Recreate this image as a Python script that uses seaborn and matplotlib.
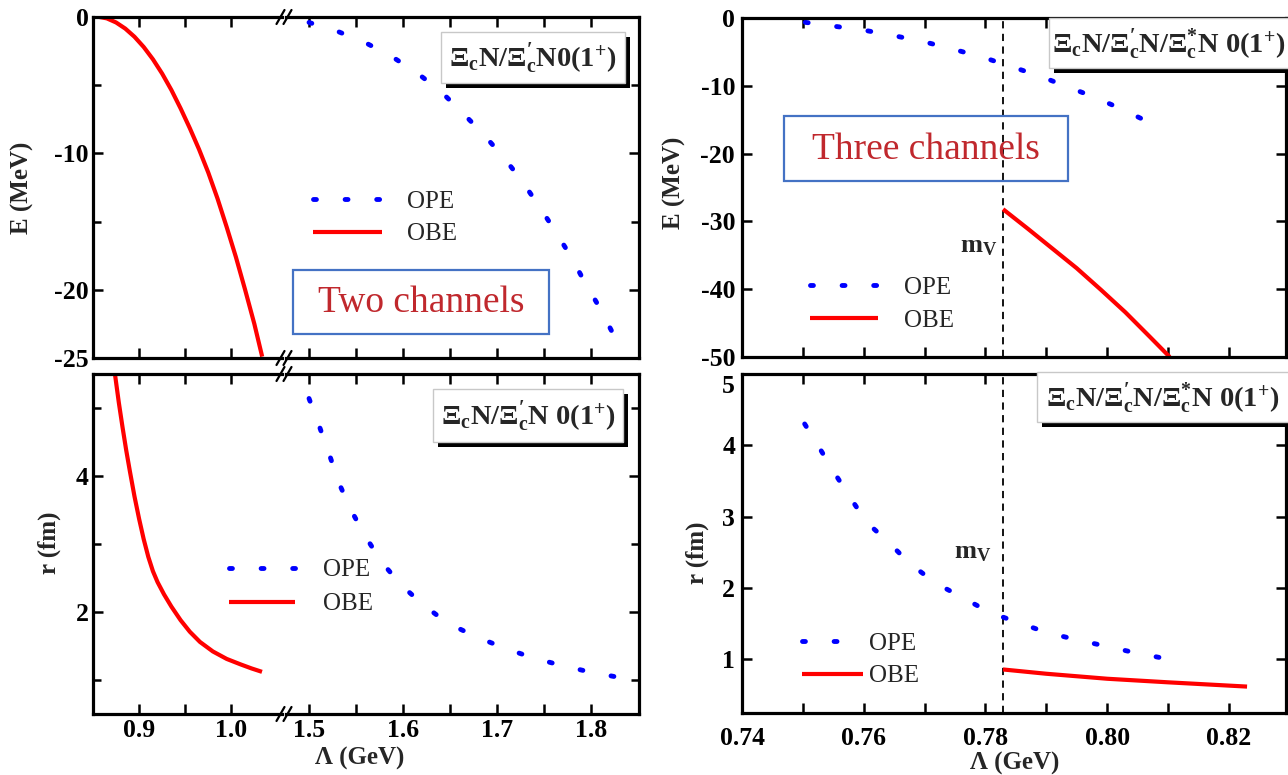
import matplotlib
matplotlib.use("Agg")
import matplotlib.pyplot as plt
import seaborn as sns
from matplotlib.lines import Line2D
from matplotlib.patches import Rectangle
from matplotlib.ticker import FixedLocator, FormatStrFormatter
from matplotlib.transforms import ScaledTranslation

# ---------------- data ----------------
# two channels, binding energy E (MeV)
lam_obe2_E = [0.857, 0.865, 0.875, 0.885, 0.895, 0.905, 0.915, 0.925, 0.935, 0.945,
              0.955, 0.965, 0.975, 0.985, 0.995, 1.005, 1.015, 1.025, 1.0335]
E_obe2 = [0.0, -0.1, -0.4, -0.85, -1.45, -2.2, -3.1, -4.15, -5.35, -6.7,
          -8.15, -9.7, -11.4, -13.3, -15.4, -17.6, -20.0, -22.5, -24.9]
lam_ope2_E = [1.500, 1.531, 1.561, 1.589, 1.615, 1.639, 1.661, 1.684, 1.706, 1.726,
              1.744, 1.761, 1.778, 1.793, 1.809, 1.824]
E_ope2 = [-0.4, -1.07, -1.92, -2.94, -4.11, -5.38, -6.86, -8.49, -10.2, -11.97,
          -13.8, -15.6, -17.5, -19.4, -21.3, -23.3]
# two channels, rms radius r (fm)
lam_obe2_r = [0.8739, 0.878, 0.882, 0.886, 0.890, 0.895, 0.900, 0.905, 0.910, 0.915,
              0.920, 0.927, 0.935, 0.945, 0.955, 0.966, 0.980, 0.995, 1.010, 1.022, 1.0333]
r_obe2 = [5.49, 5.08, 4.72, 4.38, 4.07, 3.70, 3.37, 3.07, 2.81, 2.60,
          2.44, 2.26, 2.08, 1.88, 1.71, 1.56, 1.42, 1.31, 1.23, 1.17, 1.12]
lam_ope2_r = [1.500, 1.511, 1.522, 1.532, 1.545, 1.560, 1.577, 1.597, 1.621, 1.647,
              1.677, 1.706, 1.737, 1.767, 1.798, 1.829]
r_ope2 = [5.14, 4.73, 4.30, 3.89, 3.49, 3.11, 2.74, 2.41, 2.11, 1.84,
          1.64, 1.48, 1.33, 1.22, 1.12, 1.04]
# three channels, binding energy E (MeV)
lam_ope3_E = [0.7504, 0.7553, 0.7602, 0.7650, 0.7699, 0.7746, 0.7795, 0.7841, 0.7888,
              0.7933, 0.7979, 0.8023, 0.8067]
E_ope3 = [-0.64, -1.23, -1.82, -2.61, -3.50, -4.58, -5.76, -7.13, -8.51,
          -10.09, -11.66, -13.4, -15.3]
lam_obe3_E = [0.7829, 0.787, 0.791, 0.795, 0.799, 0.803, 0.807, 0.8103]
E_obe3 = [-28.2, -31.1, -34.0, -36.9, -40.1, -43.4, -47.0, -50.0]
# three channels, rms radius r (fm)
lam_ope3_r = [0.7503, 0.7529, 0.7553, 0.7580, 0.7605, 0.7640, 0.7675, 0.7718, 0.7762,
              0.7807, 0.7853, 0.7900, 0.7948, 0.7996, 0.8043, 0.8091]
r_ope3 = [4.30, 3.94, 3.60, 3.24, 2.92, 2.65, 2.35, 2.07, 1.87,
          1.66, 1.52, 1.38, 1.28, 1.19, 1.10, 1.02]
lam_obe3_r = [0.7829, 0.790, 0.800, 0.810, 0.823]
r_obe3 = [0.86, 0.80, 0.73, 0.68, 0.62]
m_V = 0.7829

series_labels = ["OPE", "OBE"]
title_2E = r"$\mathbf{\Xi_{c}N/\Xi_{c}^{\prime}N0(1^{+})}$"
title_2r = r"$\mathbf{\Xi_{c}N/\Xi_{c}^{\prime}N\ 0(1^{+})}$"
title_3 = r"$\mathbf{\Xi_{c}N/\Xi_{c}^{\prime}N/\Xi_{c}^{*}N\ 0(1^{+})}$"

# ---------------- style ----------------
sns.set_style("ticks")
plt.rcParams["font.family"] = ["Liberation Serif", "DejaVu Serif"]
plt.rcParams["font.weight"] = "bold"
plt.rcParams["mathtext.fontset"] = "custom"
plt.rcParams["mathtext.rm"] = "Liberation Serif"
plt.rcParams["mathtext.bf"] = "Liberation Serif:bold"
plt.rcParams["mathtext.it"] = "Liberation Serif:italic"
plt.rcParams["axes.unicode_minus"] = False

W, H = 1288, 775
fig = plt.figure(figsize=(W / 100, H / 100), dpi=100)
fig.patch.set_facecolor("white")


def ax_at(x0, y0, x1, y1):
    return fig.add_axes([x0 / W, 1 - y1 / H, (x1 - x0) / W, (y1 - y0) / H])


def fx(px):
    return px / W


def fy(py):
    return 1 - py / H


OPE_KW = dict(color="#0000FF", linewidth=3.5, linestyle=(0, (0.6, 5.9)),
              dash_capstyle="round")
OBE_KW = dict(color="#FF0000", linewidth=3.0, solid_capstyle="butt")


def draw(ax, x, y, kw):
    sns.lineplot(x=x, y=y, ax=ax, legend=False, **kw)
    return ax.lines[-1]


def style_ax(ax, xlim, ylim, xmaj, xmin, ymaj, ymin, xfmt, yfmt,
             left=True, right=True, xlabels=True, ylabels=True, xpad=3, ypad=3):
    ax.set_xlim(*xlim)
    ax.set_ylim(*ylim)
    ax.xaxis.set_major_locator(FixedLocator(xmaj))
    ax.xaxis.set_minor_locator(FixedLocator(xmin))
    ax.yaxis.set_major_locator(FixedLocator(ymaj))
    ax.yaxis.set_minor_locator(FixedLocator(ymin))
    ax.xaxis.set_major_formatter(FormatStrFormatter(xfmt))
    ax.yaxis.set_major_formatter(FormatStrFormatter(yfmt))
    ax.tick_params(which="both", direction="in", top=True, bottom=True,
                   left=left, right=right, width=1.8, labelsize=18.5,
                   labelbottom=xlabels, labelleft=ylabels, labelright=False,
                   labeltop=False, color="black", labelcolor="black")
    ax.tick_params(axis="x", which="both", pad=xpad)
    ax.tick_params(axis="y", which="both", pad=ypad)
    ax.tick_params(which="major", length=7.5)
    ax.tick_params(which="minor", length=5.5)
    ax.tick_params(axis="x", which="minor", length=7.5)
    for s in ax.spines.values():
        s.set_linewidth(2.3)
        s.set_color("black")
    if not left:
        ax.spines["left"].set_visible(False)
    if not right:
        ax.spines["right"].set_visible(False)
    ax.set_xlabel("")
    ax.set_ylabel("")
    ax.set_facecolor("none")


def legend_at(ax, handles, x_left, y_top, hlen, hpad, lspace):
    ax.legend(handles, series_labels, loc="upper left",
              bbox_to_anchor=(fx(x_left), fy(y_top)), bbox_transform=fig.transFigure,
              frameon=False, borderpad=0, borderaxespad=0, handlelength=hlen,
              handletextpad=hpad, labelspacing=lspace,
              prop=dict(family="Liberation Serif", weight="normal", size=18))


def label_box(x0, y0, x1, y1, txt, sx=5, sy=5):
    fig.add_artist(Rectangle((fx(x0 + sx), fy(y1 + sy)), (x1 - x0) / W, (y1 - y0) / H,
                             transform=fig.transFigure, fc="black", ec="none", zorder=5))
    fig.add_artist(Rectangle((fx(x0), fy(y1)), (x1 - x0) / W, (y1 - y0) / H,
                             transform=fig.transFigure, fc="white", ec="#C8C8C8",
                             lw=1.0, zorder=6))
    fig.text(fx((x0 + min(x1, W)) / 2), fy((y0 + y1) / 2 + 1), txt, ha="center",
             va="center", fontsize=20.5, zorder=7)


def channel_box(x0, y0, x1, y1, txt):
    fig.add_artist(Rectangle((fx(x0), fy(y1)), (x1 - x0) / W, (y1 - y0) / H,
                             transform=fig.transFigure, fc="none", ec="#4472C4",
                             lw=1.6, zorder=5))
    fig.text(fx((x0 + x1) / 2), fy((y0 + y1) / 2 + 1), txt, ha="center", va="center",
             fontsize=27, fontweight="normal", color="#C0282D", zorder=6)


def break_marks(cx, ys):
    for y in ys:
        for off in (-3.5, 3.5):
            fig.add_artist(Line2D([fx(cx + off - 4), fx(cx + off + 4)],
                                  [fy(y + 7), fy(y - 7)], transform=fig.transFigure,
                                  color="black", lw=1.6, zorder=5))


# ---------------- left: two channels ----------------
xl1, xl2 = (0.85, 1.055), (1.4755, 1.851)
axTL1 = ax_at(93, 17, 282, 358)
axTL2 = ax_at(286, 17, 639, 358)
axBL1 = ax_at(93, 374, 282, 714)
axBL2 = ax_at(286, 374, 639, 714)

obe_tl = draw(axTL1, lam_obe2_E, E_obe2, OBE_KW)
ope_tl = draw(axTL2, lam_ope2_E, E_ope2, OPE_KW)
obe_bl = draw(axBL1, lam_obe2_r, r_obe2, OBE_KW)
ope_bl = draw(axBL2, lam_ope2_r, r_ope2, OPE_KW)

Eticks2 = ([-25, -20, -10, 0], [-15, -5])
rticks2 = ([2, 4], [1, 3, 5])
style_ax(axTL1, xl1, (-25, 0), [0.9, 1.0], [0.95], *Eticks2, "%.1f", "%d",
         right=False, xlabels=False, ypad=3)
style_ax(axTL2, xl2, (-25, 0), [1.5, 1.6, 1.7, 1.8], [1.55, 1.65, 1.75], *Eticks2,
         "%.1f", "%d", left=False, xlabels=False, ylabels=False)
style_ax(axBL1, xl1, (0.5, 5.5), [0.9, 1.0], [0.95], *rticks2, "%.1f", "%d",
         right=False, xpad=3.5, ypad=3)
style_ax(axBL2, xl2, (0.5, 5.5), [1.5, 1.6, 1.7, 1.8], [1.55, 1.65, 1.75], *rticks2,
         "%.1f", "%d", left=False, ylabels=False, xpad=3.5)
break_marks(284, [17, 358, 374, 714])

legend_at(axTL2, [ope_tl, obe_tl], 313, 190, 2.75, 1.0, 0.42)
legend_at(axBL2, [ope_bl, obe_bl], 229, 559, 2.65, 1.1, 0.45)

fig.text(fx(22), fy(188), "E (MeV)", rotation=90, ha="center", va="center", fontsize=18)
fig.text(fx(49), fy(543), "r (fm)", rotation=90, ha="center", va="center", fontsize=18)
fig.text(fx(360), fy(758), "\u039b (GeV)", ha="center", va="center", fontsize=18)

label_box(441, 32, 625, 83, title_2E)
label_box(433, 389, 623, 442, title_2r)
channel_box(293, 270, 549, 334, "Two channels")

# ---------------- right: three channels ----------------
xr = (0.74, 0.8294)
axTR = ax_at(742, 18, 1286, 357)
axBR = ax_at(742, 374, 1286, 713)

ope_tr = draw(axTR, lam_ope3_E, E_ope3, OPE_KW)
obe_tr = draw(axTR, lam_obe3_E, E_obe3, OBE_KW)
ope_br = draw(axBR, lam_ope3_r, r_ope3, OPE_KW)
obe_br = draw(axBR, lam_obe3_r, r_obe3, OBE_KW)
for ax in (axTR, axBR):
    ax.axvline(m_V, color="black", lw=1.3, linestyle=(0, (4, 3)), zorder=1)

xmaj3 = [0.74, 0.76, 0.78, 0.80, 0.82]
xmin3 = [0.75, 0.77, 0.79, 0.81, 0.83]
style_ax(axTR, xr, (-50, 0), xmaj3, xmin3, [-50, -40, -30, -20, -10, 0], [], "%.2f", "%d",
         xlabels=False, ypad=5)
style_ax(axBR, xr, (0.25, 5), xmaj3, xmin3, [1, 2, 3, 4, 5], [], "%.2f", "%d",
         xpad=10, ypad=5)
# the top "5" label sits a little lower in the reference
top_tick = axBR.yaxis.get_major_ticks()[-1]
top_tick.label1.set_transform(top_tick.label1.get_transform()
                              + ScaledTranslation(0, -10 / 100, fig.dpi_scale_trans))

legend_at(axTR, [ope_tr, obe_tr], 810, 276, 2.7, 1.05, 0.42)
legend_at(axBR, [ope_br, obe_br], 802, 632, 2.45, 0.25, 0.42)

fig.text(fx(674), fy(183), "E (MeV)", rotation=90, ha="center", va="center", fontsize=18)
fig.text(fx(697), fy(553), "r (fm)", rotation=90, ha="center", va="center", fontsize=18)
fig.text(fx(1015), fy(763), "\u039b (GeV)", ha="center", va="center", fontsize=18)
fig.text(fx(979), fy(247), r"$\mathbf{m_{V}}$", ha="center", va="center", fontsize=19)
fig.text(fx(973), fy(552), r"$\mathbf{m_{V}}$", ha="center", va="center", fontsize=19)

label_box(1049, 18, 1300, 68, title_3)
label_box(1037, 372, 1300, 422, title_3)
channel_box(784, 116, 1068, 181, "Three channels")

fig.savefig("out.png", dpi=100, facecolor="white")
